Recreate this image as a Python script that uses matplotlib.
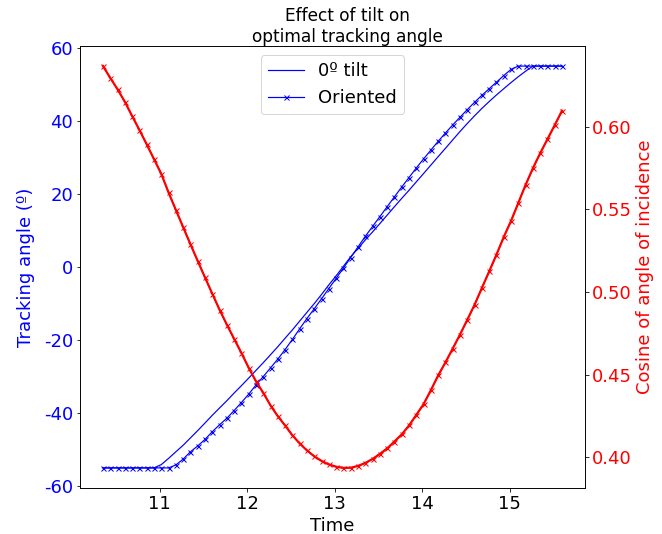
import matplotlib
matplotlib.use("Agg")
import matplotlib.pyplot as plt

# Time (hours), 5-minute steps
time_h = [10.350, 10.433, 10.517, 10.600, 10.683, 10.767, 10.850, 10.933,
          11.017, 11.100, 11.183, 11.267, 11.350, 11.433, 11.517, 11.600,
          11.683, 11.767, 11.850, 11.933, 12.017, 12.100, 12.183, 12.267,
          12.350, 12.433, 12.517, 12.600, 12.683, 12.767, 12.850, 12.933,
          13.017, 13.100, 13.183, 13.267, 13.350, 13.433, 13.517, 13.600,
          13.683, 13.767, 13.850, 13.933, 14.017, 14.100, 14.183, 14.267,
          14.350, 14.433, 14.517, 14.600, 14.683, 14.767, 14.850, 14.933,
          15.017, 15.100, 15.183, 15.267, 15.350, 15.433, 15.517, 15.600]

# Tracking angle, 0º tilt (degrees)
angle_flat = [-55.0, -55.0, -55.0, -55.0, -55.0, -55.0, -55.0, -55.0,
              -54.1, -52.4, -50.6, -48.8, -46.8, -44.8, -42.7, -40.6,
              -38.6, -36.6, -34.5, -32.5, -30.4, -28.3, -26.2, -24.0,
              -21.8, -19.5, -17.2, -14.8, -12.4, -10.0, -7.5, -4.9,
              -2.4, 0.2, 2.8, 5.1, 7.4, 9.6, 11.9, 14.2,
              16.5, 18.8, 21.0, 23.3, 25.6, 27.9, 30.2, 32.5,
              34.8, 37.1, 39.3, 41.4, 43.4, 45.3, 47.1, 48.8,
              50.5, 52.1, 53.6, 55.0, 55.0, 55.0, 55.0, 55.0]

# Tracking angle, oriented (degrees)
angle_oriented = [-55.0, -55.0, -55.0, -55.0, -55.0, -55.0, -55.0, -55.0,
                  -55.0, -55.0, -54.2, -52.6, -50.6, -49.0, -47.2, -45.1,
                  -43.2, -41.4, -39.3, -37.1, -34.8, -32.3, -30.0, -27.6,
                  -25.2, -22.6, -19.8, -16.9, -14.1, -11.4, -8.7, -5.9,
                  -3.1, -0.3, 2.6, 5.5, 8.4, 11.1, 13.8, 16.5,
                  19.2, 21.9, 24.5, 27.1, 29.6, 32.0, 34.4, 36.7,
                  38.9, 41.0, 43.1, 45.1, 47.0, 48.8, 50.6, 52.4,
                  54.1, 55.0, 55.0, 55.0, 55.0, 55.0, 55.0, 55.0]

# Cosine of angle of incidence, oriented
cos_oriented = [0.6369, 0.6298, 0.6228, 0.6153, 0.6067, 0.5982, 0.5895, 0.5806,
                0.5716, 0.5603, 0.5498, 0.5393, 0.5290, 0.5189, 0.5088, 0.4990,
                0.4893, 0.4802, 0.4716, 0.4631, 0.4540, 0.4459, 0.4389, 0.4312,
                0.4247, 0.4191, 0.4131, 0.4082, 0.4040, 0.4004, 0.3976, 0.3955,
                0.3941, 0.3934, 0.3935, 0.3946, 0.3964, 0.3988, 0.4019, 0.4052,
                0.4094, 0.4137, 0.4191, 0.4255, 0.4321, 0.4405, 0.4494, 0.4574,
                0.4657, 0.4742, 0.4832, 0.4923, 0.5024, 0.5125, 0.5226, 0.5333,
                0.5431, 0.5540, 0.5649, 0.5750, 0.5841, 0.5926, 0.6012, 0.6099]

# Cosine of angle of incidence, 0º tilt
cos_flat = [0.6369, 0.6298, 0.6228, 0.6153, 0.6067, 0.5982, 0.5895, 0.5806,
            0.5716, 0.5603, 0.5498, 0.5393, 0.5290, 0.5189, 0.5088, 0.4990,
            0.4893, 0.4802, 0.4716, 0.4631, 0.4540, 0.4459, 0.4389, 0.4312,
            0.4247, 0.4191, 0.4131, 0.4082, 0.4040, 0.4004, 0.3976, 0.3955,
            0.3941, 0.3934, 0.3935, 0.3946, 0.3964, 0.3988, 0.4019, 0.4052,
            0.4094, 0.4137, 0.4191, 0.4255, 0.4321, 0.4405, 0.4494, 0.4574,
            0.4657, 0.4742, 0.4832, 0.4923, 0.5024, 0.5125, 0.5226, 0.5333,
            0.5431, 0.5540, 0.5649, 0.5750, 0.5841, 0.5926, 0.6012, 0.6099]

plt.rcParams["axes.unicode_minus"] = False
FS = 18
DPI = 72

fig = plt.figure(figsize=(662 / DPI, 534 / DPI), dpi=DPI)
ax = fig.add_axes([80 / 662, 1 - 488 / 534, 505 / 662, 442 / 534])
ax.plot(time_h, angle_flat, color="blue", lw=1.2, label="0º tilt")
ax.plot(time_h, angle_oriented, color="blue", lw=1.2, marker="x",
        markersize=5, markeredgewidth=1.0, label="Oriented")
ax.set_ylabel("Tracking angle (º)", color="blue", fontsize=FS, labelpad=9)
ax.set_xlabel("Time", fontsize=FS)
ax.tick_params(axis="y", labelcolor="blue", labelsize=FS)
ax.tick_params(axis="x", labelsize=FS)
ax.set_yticks([-60, -40, -20, 0, 20, 40, 60])
ax.legend(loc="upper center", fontsize=FS)
ax.set_title("Effect of tilt on\noptimal tracking angle", fontsize=17,
             x=0.529, pad=2)

ax2 = ax.twinx()
ax2.plot(time_h, cos_flat, color="red", lw=2.2)
ax2.plot(time_h, cos_oriented, color="red", lw=1.2, marker="x",
         markersize=5, markeredgewidth=1.0)
ax2.set_ylabel("Cosine of angle of incidence", color="red", fontsize=FS)
ax2.tick_params(axis="y", labelcolor="red", labelsize=FS)

fig.savefig("out.png", dpi=DPI)
